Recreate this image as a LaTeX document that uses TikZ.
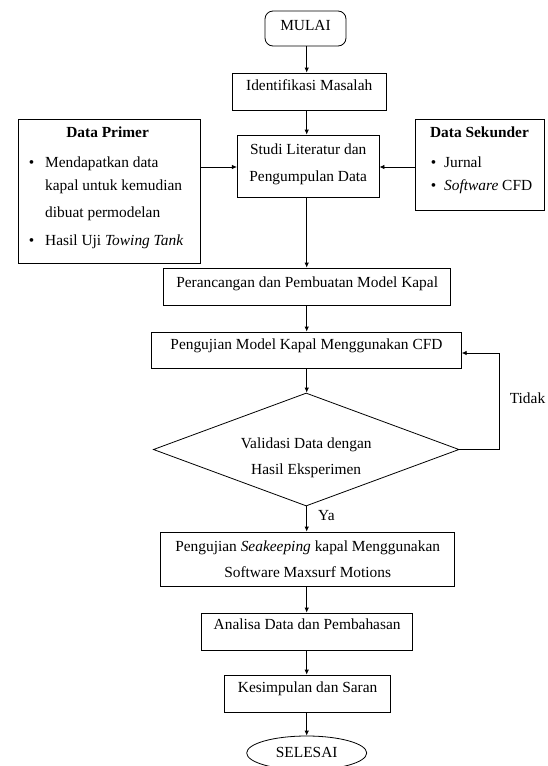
\documentclass[tikz,border=0pt]{standalone}
\usepackage{fontspec}
\setmainfont{Liberation Serif}
\usetikzlibrary{shapes.geometric,arrows.meta}
\begin{document}
\begin{tikzpicture}[x=1pt,y=-1pt,
  box/.style={draw, line width=0.8pt, inner sep=0pt},
  txt/.style={anchor=base, inner sep=0pt, font=\fontsize{15.4}{18}\selectfont},
  txtl/.style={anchor=base west, inner sep=0pt, font=\fontsize{15.4}{18}\selectfont},
  arr/.style={line width=0.8pt, -{Latex[length=5pt,width=4.5pt]}}]
\useasboundingbox (0,0) rectangle (548,766);
\fill[white] (0,0) rectangle (548,766);
\coordinate (col) at (306.7,0);
\coordinate (sidey) at (0,167);
\coordinate (fbcorner) at (499,353);
\coordinate (fbin) at (461.7,353);

% boxes
\node[box, rounded corners=8pt, minimum width=81pt, minimum height=35pt] (mulai) at (305.5,28.5) {};
\node[box, minimum width=154.4pt, minimum height=37pt] (ident) at (309.2,91.5) {};
\node[box, minimum width=141.7pt, minimum height=62pt] (studi) at (308.2,166) {};
\node[box, minimum width=182.6pt, minimum height=144pt] (primer) at (109.2,191) {};
\node[box, minimum width=128.1pt, minimum height=91pt] (sekunder) at (479.85,164.5) {};
\node[box, minimum width=286.7pt, minimum height=37pt] (peran) at (307.15,286.5) {};
\node[box, minimum width=310.5pt, minimum height=36pt] (cfd) at (306.45,350) {};
\node[box, diamond, minimum width=305.7pt, minimum height=113pt] (dia) at (306.2,449.5) {};
\node[box, minimum width=294pt, minimum height=54pt] (seak) at (307.7,559) {};
\node[box, minimum width=211pt, minimum height=37pt] (anal) at (307.15,631.5) {};
\node[box, minimum width=166pt, minimum height=37pt] (kesim) at (307.65,693.5) {};
\node[box, ellipse, minimum width=120pt, minimum height=34pt] (selesai) at (306.7,753) {};

% texts
\node[txt] (tmulai) at (305.5,30) {MULAI};
\node[txt] (tident) at (309.2,90) {Identifikasi Masalah};
\node[txt] (tstudi1) at (308.2,154) {Studi Literatur dan};
\node[txt] (tstudi2) at (308.2,181) {Pengumpulan Data};
\node[txt] (tprim) at (107.6,137) {\bfseries Data Primer};
\node[txt] (bp1) at (31.5,167) {\textbullet};
\node[txtl] (tp1) at (45,167) {Mendapatkan data};
\node[txtl] (tp2) at (45,190) {kapal untuk kemudian};
\node[txtl] (tp3) at (45,217) {dibuat permodelan};
\node[txt] (bp2) at (31.5,245) {\textbullet};
\node[txtl] (tp4) at (45,245) {Hasil Uji \textit{Towing Tank}};
\node[txt] (tsek) at (479.5,137) {\bfseries Data Sekunder};
\node[txt] (bs1) at (433.6,167) {\textbullet};
\node[txtl] (ts1) at (444,167) {Jurnal};
\node[txt] (bs2) at (433.6,190) {\textbullet};
\node[txtl] (ts2) at (444,190) {\textit{Software} CFD};
\node[txt] (tperan) at (307.15,287) {Perancangan dan Pembuatan Model Kapal};
\node[txt] (tcfd) at (306.45,349) {Pengujian Model Kapal Menggunakan CFD};
\node[txt] (tdia1) at (306.2,448) {Validasi Data dengan};
\node[txt] (tdia2) at (306.2,474) {Hasil Eksperimen};
\node[txt] (tseak1) at (307.7,551) {Pengujian \textit{Seakeeping} kapal Menggunakan};
\node[txt] (tseak2) at (307.7,577) {Software Maxsurf Motions};
\node[txt] (tanal) at (307.15,629) {Analisa Data dan Pembahasan};
\node[txt] (tkesim) at (307.65,692) {Kesimpulan dan Saran};
\node[txt] (tsel) at (306.7,757.5) {SELESAI};
\node[txt] (ttidak) at (527.5,403) {Tidak};
\node[txtl] (tya) at (318,520) {Ya};

% connectors
\draw[arr] (mulai.south -| col) -- (ident.north -| col);
\draw[arr] (ident.south -| col) -- (studi.north -| col);
\draw[arr] (studi.south -| col) -- (peran.north -| col);
\draw[arr] (peran.south -| col) -- (cfd.north -| col);
\draw[arr] (cfd.south -| col) -- (dia.north -| col);
\draw[arr] (dia.south -| col) -- (seak.north -| col);
\draw[arr] (seak.south -| col) -- (anal.north -| col);
\draw[arr] (anal.south -| col) -- (kesim.north -| col);
\draw[arr] (kesim.south -| col) -- (selesai.north -| col);
\draw[arr] (primer.east |- sidey) -- (studi.west |- sidey);
\draw[arr] (sekunder.west |- sidey) -- (studi.east |- sidey);
\draw[arr] (dia.east) -| (fbcorner) -- (fbin);
\end{tikzpicture}
\end{document}
